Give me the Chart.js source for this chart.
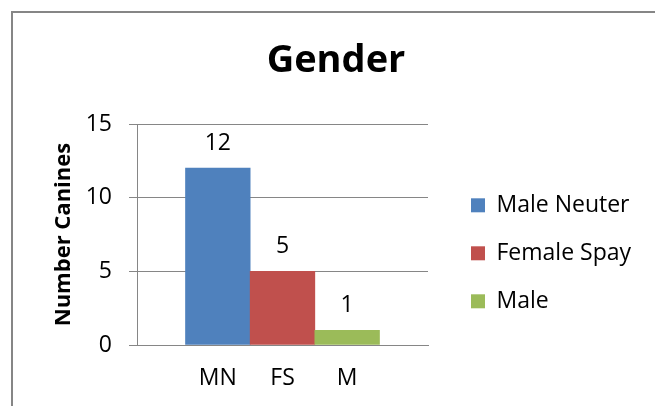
<!DOCTYPE html>
<html><head><meta charset="utf-8">
<script src="https://cdn.jsdelivr.net/npm/chart.js@4"></script>
<style>html,body{margin:0;padding:0;background:#fff}#wrap{width:655px;height:406px}</style>
</head><body><div id="wrap"><canvas id="c" width="655" height="406"></canvas></div>
<script>
// ---- data ----
const chartTitle = 'Gender';
const yAxisTitle = 'Number Canines';
const categories = ['MN', 'FS', 'M'];
const seriesNames = ['Male Neuter', 'Female Spay', 'Male'];
const counts = [12, 5, 1];
const yTicks = [0, 5, 10, 15];
const colors = ['#4F81BD', '#C0504D', '#9BBB59'];

// ---- layout / style ----
const W = 655, H = 406;
const FONT = "'Open Sans', sans-serif";
const FS = 23;
const GRID = '#868686';
const PLOT_LEFT = 137, PLOT_RIGHT = 428, PLOT_TOP = 124, PLOT_BOTTOM = 345;
const LEGEND_X = 471, TITLE_CX = 336, YTITLE_CX = 64;
const LEG_PAD = 25, BOX = 14;
const GAP_WIDTH = 1.5; // Excel gap width 150%
const TITLE_SIZE = 38, YTITLE_SIZE = 22;

// measure legend width the way Chart.js does
const mctx = document.createElement('canvas').getContext('2d');
mctx.font = FS + 'px ' + FONT;
const maxText = Math.max(...seriesNames.map(s => mctx.measureText(s).width));
const legendW = LEG_PAD + BOX + FS / 2 + maxText + 10;
const legendLeft = LEGEND_X - LEG_PAD;
let padR = W - legendLeft - legendW;
if (padR < 0) padR = 0;
const legendMaxW = W - legendLeft - padR;
const padL = 2 * TITLE_CX - W + padR;
const yAxisW = PLOT_LEFT - padL;
const gapW = legendLeft - PLOT_RIGHT;
const yTitlePad = YTITLE_CX - padL - YTITLE_SIZE * 1.2 / 2;
const titleLH = TITLE_SIZE * 1.2;
const titlePadTop = 38.5;
const titlePadBottom = PLOT_TOP - titleLH - titlePadTop;

const frame = {
  id: 'frame',
  beforeDraw(chart) {
    const c = chart.ctx;
    c.save();
    c.fillStyle = '#fff';
    c.fillRect(0, 0, W, H);
    c.strokeStyle = GRID;
    c.lineWidth = 2;
    c.strokeRect(12, 12, W + 100, H + 100);
    c.restore();
  }
};
const valueLabels = {
  id: 'valueLabels',
  afterDatasetsDraw(chart) {
    const c = chart.ctx;
    const meta = chart.getDatasetMeta(0);
    c.save();
    c.font = FS + 'px ' + FONT;
    c.fillStyle = '#000';
    c.textAlign = 'center';
    c.textBaseline = 'middle';
    meta.data.forEach((el, i) => {
      c.fillText(String(counts[i]), el.x, el.y - 25);
    });
    c.restore();
  }
};

const n = categories.length;
new Chart(document.getElementById('c'), {
  type: 'bar',
  data: {
    datasets: [{
      label: chartTitle,
      data: categories.map((c, i) => ({ x: i + 1, y: counts[i] })),
      backgroundColor: colors,
      borderWidth: 0,
      categoryPercentage: 1,
      barPercentage: 1,
      xAxisID: 'x',
      yAxisID: 'y'
    }]
  },
  options: {
    responsive: false,
    animation: false,
    devicePixelRatio: 1,
    layout: { padding: { left: padL, right: padR, top: 0, bottom: 0 } },
    scales: {
      x: {
        type: 'linear',
        position: 'bottom',
        offset: false,
        min: 0.5 - GAP_WIDTH / 2,
        max: n + 0.5 + GAP_WIDTH / 2,
        afterBuildTicks: s => { s.ticks = categories.map((c, i) => ({ value: i + 1 })); },
        grid: { display: false, drawTicks: false, offset: false },
        border: { display: true, color: GRID, width: 1 },
        ticks: {
          color: '#000', font: { family: FONT, size: FS }, padding: 20,
          maxRotation: 0, autoSkip: false,
          callback: (v, i) => categories[i]
        },
        afterFit: s => { s.height = H - PLOT_BOTTOM; }
      },
      y: {
        type: 'linear',
        position: 'left',
        min: yTicks[0],
        max: yTicks[yTicks.length - 1],
        afterBuildTicks: s => { s.ticks = yTicks.map(v => ({ value: v })); },
        grid: { color: GRID, lineWidth: 1, drawTicks: true, tickLength: 8, tickColor: GRID },
        border: { display: true, color: GRID, width: 1 },
        ticks: { color: '#000', font: { family: FONT, size: FS }, padding: 17 },
        title: {
          display: true, text: yAxisTitle, color: '#000',
          font: { family: FONT, size: YTITLE_SIZE, weight: 'bold' },
          padding: { top: yTitlePad, bottom: 0 }
        },
        afterFit: s => { s.width = yAxisW; }
      },
      gap: {
        type: 'linear',
        axis: 'y',
        position: 'right',
        display: true,
        grid: { display: false, drawTicks: false },
        border: { display: false },
        ticks: { display: false },
        afterFit: s => { s.width = gapW; }
      }
    },
    plugins: {
      title: {
        display: true, text: chartTitle, color: '#000',
        font: { family: FONT, size: TITLE_SIZE, weight: 'bold' },
        padding: { top: titlePadTop, bottom: titlePadBottom }
      },
      legend: {
        position: 'right',
        fullSize: false,
        align: 'center',
        maxWidth: legendMaxW,
        title: { display: true, text: '', font: { size: 10 }, padding: { top: 25.6, bottom: 0 } },
        labels: {
          boxWidth: BOX, boxHeight: BOX, padding: LEG_PAD, color: '#000',
          font: { family: FONT, size: FS },
          generateLabels: () => seriesNames.map((s, i) => ({
            text: s, fillStyle: colors[i], strokeStyle: colors[i], lineWidth: 0,
            hidden: false, index: i, datasetIndex: 0, fontColor: '#000'
          }))
        }
      },
      tooltip: { enabled: false }
    }
  },
  plugins: [frame, valueLabels]
});
</script>
</body></html>
